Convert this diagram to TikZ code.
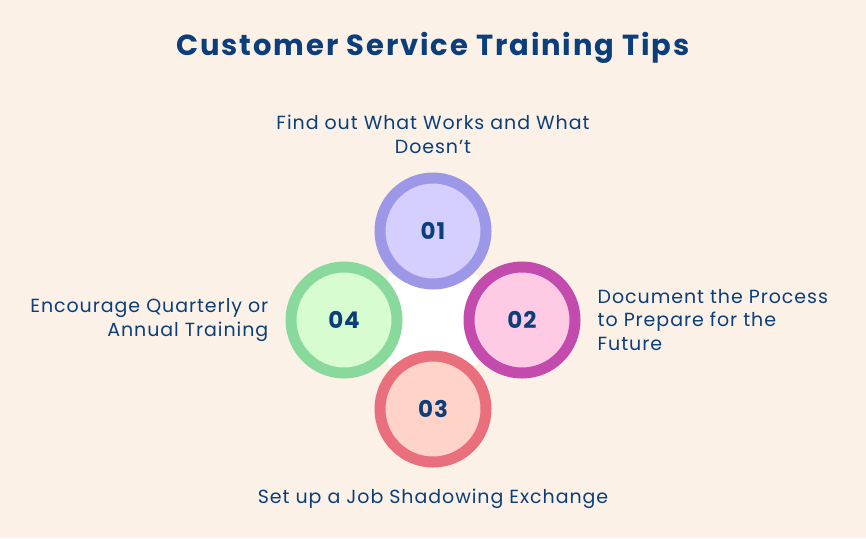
\documentclass[tikz,border=0pt]{standalone}
\usepackage{fontspec}
\setmainfont{Poppins}
\usetikzlibrary{positioning}
\definecolor{bgcolor}{HTML}{FCF1E7}
\definecolor{lettercolor}{HTML}{0B3F7B}
\definecolor{ringA}{HTML}{9D97E8}
\definecolor{fillA}{HTML}{D4CFFE}
\definecolor{ringB}{HTML}{C44BAE}
\definecolor{fillB}{HTML}{FFCAE3}
\definecolor{ringC}{HTML}{E86F7B}
\definecolor{fillC}{HTML}{FFD3C8}
\definecolor{ringD}{HTML}{89D99C}
\definecolor{fillD}{HTML}{D6FCCF}
\tikzset{
	tipcircle/.style 2 args={
		circle,
		line width=11pt,
		draw=#1,
		fill=#2,
		minimum size=106pt,
		inner sep=0pt,
		text=lettercolor,
		font=\bfseries\fontsize{23}{23}\selectfont\addfontfeatures{LetterSpace=4}
	},
	hub/.style={
		rectangle,
		fill=white,
		minimum size=90pt,
		inner sep=0pt
	},
	tiplabel/.style={
		text=lettercolor,
		inner sep=0pt,
		font=\fontsize{19}{23.5}\selectfont\addfontfeatures{LetterSpace=5}
	},
}

\begin{document}
\begin{tikzpicture}[x=1pt,y=-1pt,node distance=89pt]
\fill[bgcolor] (0,0) rectangle (866,538);
\useasboundingbox (0,0) rectangle (866,538);
\node [text=lettercolor,font=\bfseries\fontsize{29}{29}\selectfont\addfontfeatures{LetterSpace=6.5}] (title) at (433,48) {Customer Service Training Tips};

\node [hub] (hub) at (433,320) {};
\node [tipcircle={ringA}{fillA}] (t1) [above of = hub] {01};
\node [tipcircle={ringB}{fillB}] (t2) [right of = hub] {02};
\node [tipcircle={ringC}{fillC}] (t3) [below of = hub] {03};
\node [tipcircle={ringD}{fillD}] (t4) [left of = hub] {04};

\node [tiplabel,align=center,above=19pt of t1] (l1) {Find out What Works and What\\Doesn’t};
\node [tiplabel,align=left,right=17pt of t2] (l2) {Document the Process\\to Prepare for the\\Future};
\node [tiplabel,below=21pt of t3] (l3) {Set up a Job Shadowing Exchange};
\node [tiplabel,align=right,left=17pt of t4] (l4) {Encourage Quarterly or\\Annual Training};
\end{tikzpicture}
\end{document}
